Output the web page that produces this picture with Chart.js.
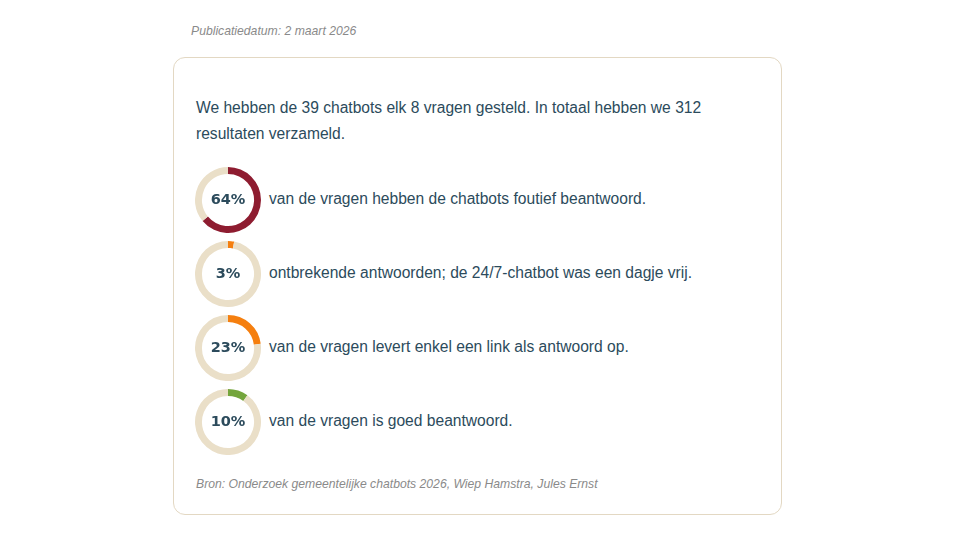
<!DOCTYPE html>
<html>
<head>
<meta charset="utf-8">
<script src="https://cdn.jsdelivr.net/npm/chart.js@4/dist/chart.umd.min.js"></script>
<style>
  body { margin: 0; background: #fff; font-family: "Liberation Sans", Arial, sans-serif; }
  .datum { position: absolute; left: 191px; top: 24px; font-size: 12.2px; font-style: italic; color: #8a8a8a; }
  .kaart { position: absolute; left: 173px; top: 57px; width: 563px; height: 419px;
           border: 1.5px solid #e3d8c3; border-radius: 12px; padding: 37px 22px 0 22px; }
  .intro { font-size: 15.6px; line-height: 26px; color: #2c4b5c; margin: 0 0 16px 0; white-space: nowrap; }
  .rij { display: flex; align-items: center; height: 74px; }
  .donut { position: relative; width: 66px; height: 66px; flex: none; margin-left: -1px; }
  .donut canvas { position: absolute; left: 0; top: 0; }
  .donut span { position: absolute; left: 0; top: -1px; width: 66px; line-height: 66px; text-align: center;
                font-family: "DejaVu Sans", sans-serif; font-weight: bold; font-size: 14.5px; color: #2c4b5c; }
  .rij p { margin: 0 0 0 8px; font-size: 15.6px; color: #2c4b5c; position: relative; top: -1px; }
  .bron { margin-top: 17px; font-size: 12.2px; font-style: italic; color: #8a8a8a; line-height: 16px; }
</style>
</head>
<body>
<div class="datum">Publicatiedatum: 2 maart 2026</div>
<div class="kaart">
  <p class="intro">We hebben de 39 chatbots elk 8 vragen gesteld. In totaal hebben we 312<br>resultaten verzameld.</p>
  <div id="rijen"></div>
  <div class="bron">Bron: Onderzoek gemeentelijke chatbots 2026, Wiep Hamstra, Jules Ernst</div>
</div>
<script>
// percentages per uitkomst
let percentages = [64, 3, 23, 10]
let kleuren = ['#8e1c30', '#f57f0f', '#f57f0f', '#74a53c']
let teksten = [
    'van de vragen hebben de chatbots foutief beantwoord.',
    'ontbrekende antwoorden; de 24/7-chatbot was een dagje vrij.',
    'van de vragen levert enkel een link als antwoord op.',
    'van de vragen is goed beantwoord.'
]
let restKleur = '#eadfc8'

let containerRijen = document.getElementById('rijen')

for (var i = 0; i < percentages.length; i++) {
    let rij = document.createElement('div')
    rij.className = 'rij'
    rij.innerHTML =
        `
        <div class="donut">
            <canvas id="donut_${i}" width="66" height="66"></canvas>
            <span>${percentages[i]}%</span>
        </div>
        <p>${teksten[i]}</p>
        `
    containerRijen.appendChild(rij)

    new Chart(document.getElementById(`donut_${i}`), {
        type: 'doughnut',
        data: {
            labels: ['Aandeel', 'Rest'],
            datasets: [{
                data: [percentages[i], 100 - percentages[i]],
                backgroundColor: [kleuren[i], restKleur],
                borderWidth: 0,
            }],
        },
        options: {
            responsive: false,
            animation: false,
            cutout: '79%',
            plugins: {
                legend: { display: false },
                tooltip: { enabled: false },
            },
        },
    })
}
</script>
</body>
</html>
